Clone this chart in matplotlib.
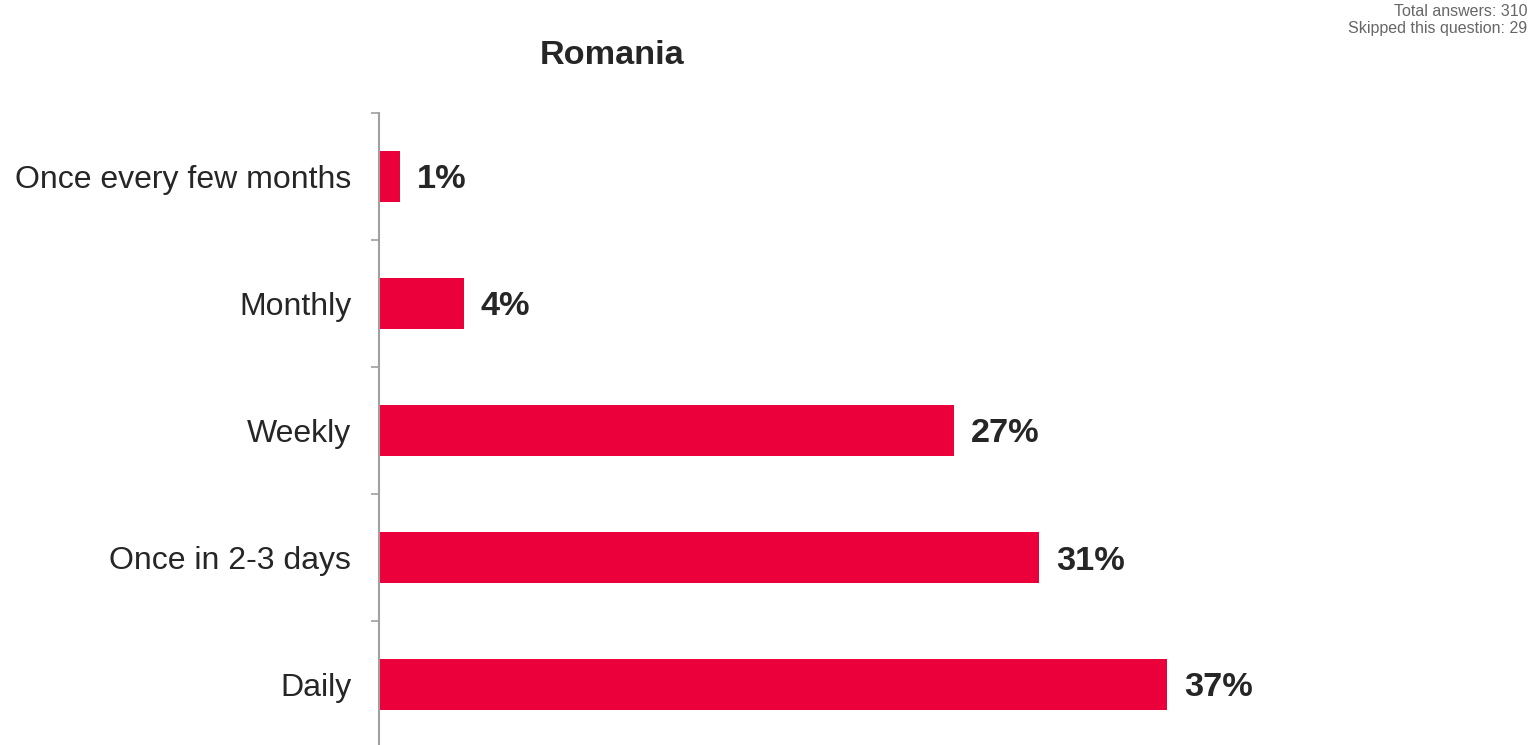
import matplotlib.pyplot as plt
import numpy as np

plt.rcParams['font.family'] = ['Liberation Sans', 'DejaVu Sans']

# data
categories = ['Daily', 'Once in 2-3 days', 'Weekly', 'Monthly', 'Once every few months']
values = [37, 31, 27, 4, 1]
title = 'Romania'
note_lines = ['Total answers: 310', 'Skipped this question: 29']

bar_color = '#EB003C'
spine_color = '#A0A0A0'

fig = plt.figure(figsize=(15.36, 7.45), dpi=100)
# axes box in pixels: left 379, top 113, bottom just past figure edge
W, H = 1536, 745
left, right = 379 / W, 1500 / W
top, bottom = 1 - 113 / H, 1 - 748 / H
ax = fig.add_axes([left, bottom, right - left, top - bottom])

y = np.arange(len(categories))
ax.barh(y, values, height=0.4, color=bar_color)

# 21.3 px per percent
ax.set_xlim(0, (1500 - 379) / 21.3)
ax.set_ylim(-0.5, len(categories) - 0.5)

for yi, v in zip(y, values):
    ax.annotate(f'{v}%', xy=(v, yi), xytext=(12, 0), textcoords='offset points',
                va='center_baseline', ha='left', fontsize=24.7, fontweight='bold',
                color='#262626')

ax.set_yticks(y)
ax.set_yticklabels(categories, fontsize=23, color='#262626')
ax.tick_params(axis='y', which='major', length=0, pad=20)
ax.set_yticks(np.arange(-0.5, len(categories), 1), minor=True)
ax.tick_params(axis='y', which='minor', length=6, width=1.2, color=spine_color, direction='out')

ax.set_xticks([])
for s in ['top', 'right', 'bottom']:
    ax.spines[s].set_visible(False)
ax.spines['left'].set_color(spine_color)
ax.spines['left'].set_linewidth(1.5)

fig.text(612 / W, 1 - 56 / H, title, ha='center', va='center',
         fontsize=24.7, fontweight='bold', color='#262626')
fig.text(1527 / W, 1 - 12 / H, note_lines[0], ha='right', va='center',
         fontsize=11.5, color='#666666')
fig.text(1527 / W, 1 - 29 / H, note_lines[1], ha='right', va='center',
         fontsize=11.5, color='#666666')

fig.savefig('out.png', dpi=100)
